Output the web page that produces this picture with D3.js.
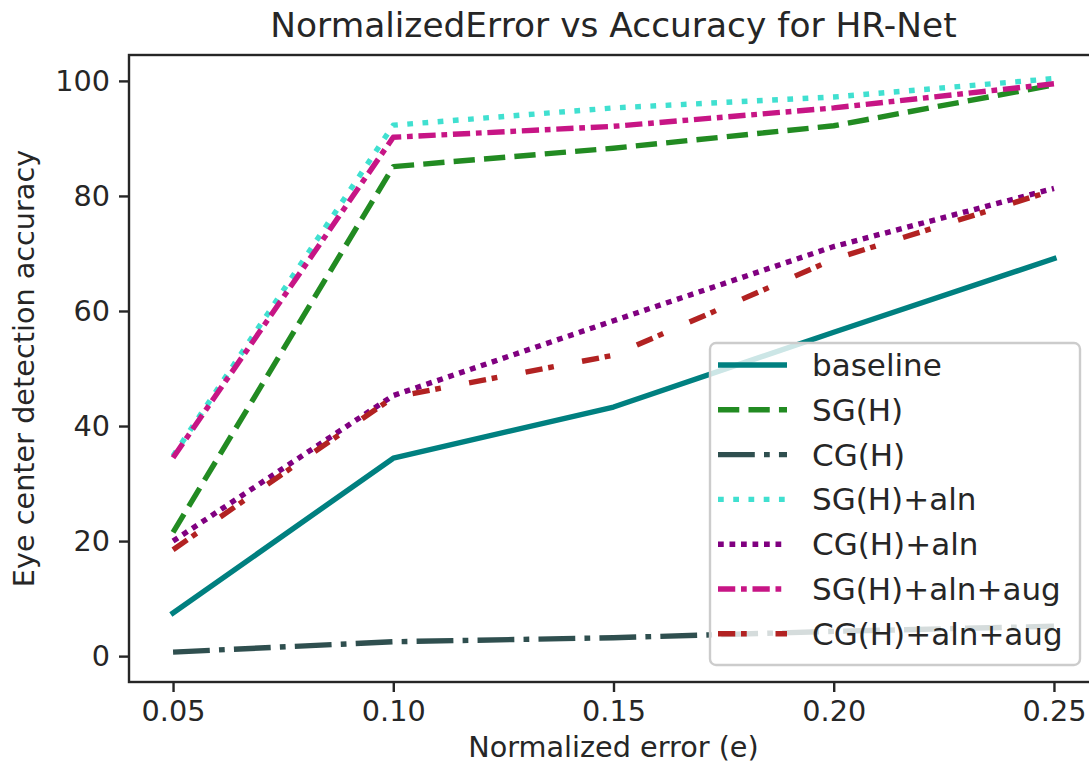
<!DOCTYPE html>
<html>
<head>
<meta charset="utf-8">
<script src="https://cdn.jsdelivr.net/npm/d3@7"></script>
<style>
  body { margin: 0; background: #fff; }
  text { font-family: "DejaVu Sans", sans-serif; fill: #262626; }
</style>
</head>
<body>
<div id="chart-container"></div>
<script>
// normalized error thresholds (x)
const errors = [0.05, 0.10, 0.15, 0.20, 0.25];
const xTicks = [0.05, 0.10, 0.15, 0.20, 0.25];
const yTicks = [0, 20, 40, 60, 80, 100];

// accuracy per method
const baseline = [7.5, 34.4, 43.3, 56.3, 69.1];
const sgH = [21.5, 85.1, 88.3, 92.2, 99.3];
const cgH = [0.7, 2.5, 3.2, 4.3, 5.2];
const sgHAln = [34.8, 92.3, 95.3, 97.2, 100.4];
const cgHAln = [20.0, 45.3, 58.3, 71.2, 81.3];
const sgHAlnAug = [34.5, 90.2, 92.1, 95.3, 99.5];
const cgHAlnAug = [18.5, 45.0, 52.3, 69.0, 81.0];

const seriesNames = ["baseline", "SG(H)", "CG(H)", "SG(H)+aln", "CG(H)+aln", "SG(H)+aln+aug", "CG(H)+aln+aug"];
const seriesValues = [baseline, sgH, cgH, sgHAln, cgHAln, sgHAlnAug, cgHAlnAug];
const seriesColors = ["#008080", "#228b22", "#2f4f4f", "#40e0d0", "#800080", "#c71585", "#b22222"];
const seriesStyles = ["solid", "dashed", "dashdot", "dotted", "densedot", "densedashdot", "loosedashdot"];

const width = 1089;
const height = 773;
const margin = {left: 129, right: -9, top: 55, bottom: 91};
const lw = 5.4;
const unit = 5.75; // dash unit (matplotlib scales dashes by linewidth)

// dash patterns, in line-width units
const dashes = {
    solid: null,
    dashed: [3.7, 1.6],
    dashdot: [6.4, 1.6, 1, 1.6],
    dotted: [1, 1.65],
    densedot: [1, 1],
    densedashdot: [3, 1, 1, 1],
    loosedashdot: [3, 1, 1, 5]
};
const dashArray = s => dashes[s] ? dashes[s].map(d => d * unit).join(",") : null;

const svg = d3.select("#chart-container")
    .append("svg")
    .attr("width", width)
    .attr("height", height);

const x = d3.scaleLinear()
    .domain([0.04, 0.26])
    .range([margin.left, width - margin.right]);

const y = d3.scaleLinear()
    .domain([-4.5, 104.5])
    .range([height - margin.bottom, margin.top]);

const plot = svg.append("g");

// lines
const line = d3.line()
    .x((d, i) => x(errors[i]))
    .y(d => y(d));

seriesValues.forEach((vals, i) => {
    plot.append("path")
        .datum(vals)
        .attr("d", line)
        .attr("fill", "none")
        .attr("stroke", seriesColors[i])
        .attr("stroke-width", lw)
        .attr("stroke-dasharray", dashArray(seriesStyles[i]))
        .attr("stroke-linejoin", "round")
        .attr("stroke-linecap", seriesStyles[i] === "solid" ? "square" : "butt");
});

// axes
const xAxis = svg.append("g")
    .attr("transform", `translate(0, ${height - margin.bottom})`)
    .call(d3.axisBottom(x).tickValues(xTicks).tickFormat(d3.format(".2f")).tickSize(10).tickPadding(9));

const yAxis = svg.append("g")
    .attr("transform", `translate(${margin.left}, 0)`)
    .call(d3.axisLeft(y).tickValues(yTicks).tickSize(10).tickPadding(9));

[xAxis, yAxis].forEach(ax => {
    ax.select(".domain").remove();
    ax.selectAll(".tick line").attr("stroke", "#262626").attr("stroke-width", 2.4);
    ax.selectAll(".tick text")
        .style("font-size", "28.7px")
        .style("font-family", "DejaVu Sans, sans-serif")
        .attr("fill", "#262626");
});

// spines
const x0 = margin.left, x1 = width - margin.right, y0 = margin.top, y1 = height - margin.bottom;
svg.append("rect")
    .attr("x", x0).attr("y", y0)
    .attr("width", x1 - x0).attr("height", y1 - y0)
    .attr("fill", "none")
    .attr("stroke", "#262626")
    .attr("stroke-width", 2.4);

// title + labels
svg.append("text")
    .attr("x", (x0 + x1) / 2)
    .attr("y", 37)
    .attr("text-anchor", "middle")
    .style("font-size", "34.4px")
    .text("NormalizedError vs Accuracy for HR-Net");

svg.append("text")
    .attr("x", (x0 + x1) / 2)
    .attr("y", 757)
    .attr("text-anchor", "middle")
    .style("font-size", "28.7px")
    .text("Normalized error (e)");

svg.append("text")
    .attr("transform", `translate(34, ${(y0 + y1) / 2}) rotate(-90)`)
    .attr("text-anchor", "middle")
    .style("font-size", "28.7px")
    .text("Eye center detection accuracy");

// legend
const legend = svg.append("g");
legend.append("rect")
    .attr("x", 710).attr("y", 343)
    .attr("width", 370).attr("height", 322)
    .attr("rx", 6)
    .attr("fill", "#fff")
    .attr("fill-opacity", 0.8)
    .attr("stroke", "#cccccc")
    .attr("stroke-width", 2.4);

seriesNames.forEach((name, i) => {
    const ry = 365 + i * 44.8;
    legend.append("line")
        .attr("x1", 718).attr("x2", 787)
        .attr("y1", ry).attr("y2", ry)
        .attr("stroke", seriesColors[i])
        .attr("stroke-width", lw)
        .attr("stroke-dasharray", dashArray(seriesStyles[i]));
    legend.append("text")
        .attr("x", 812)
        .attr("y", ry + 11)
        .style("font-size", "31px")
        .text(name);
});
</script>
</body>
</html>
